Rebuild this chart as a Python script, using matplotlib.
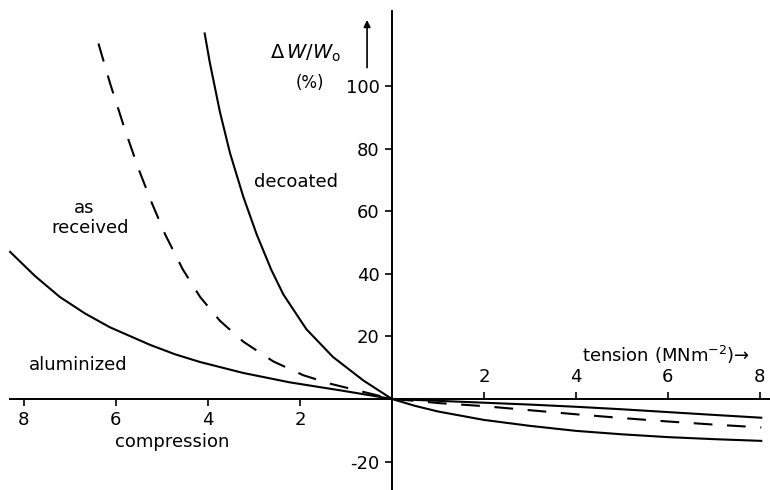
import numpy as np
import matplotlib.pyplot as plt

# compression side (negative stress)
dec_x_c = [-4.07, -3.96, -3.74, -3.52, -3.23, -2.94, -2.62, -2.36, -1.86, -1.28, -0.62, 0]
dec_y_c = [116.8, 107.6, 91.8, 78.6, 64.6, 52.6, 41.2, 33.4, 22.3, 13.4, 5.9, 0]

asr_x_c = [-6.38, -6.13, -5.80, -5.51, -5.23, -4.93, -4.55, -4.17, -3.74, -3.23,
           -2.58, -1.93, -1.35, -0.77, 0]
asr_y_c = [113.6, 101.0, 85.9, 73.6, 63.0, 52.6, 41.5, 32.6, 25.0, 18.3,
           12.0, 7.6, 4.9, 2.8, 0]

alu_x_c = [-8.3, -7.76, -7.22, -6.67, -6.13, -5.26, -4.72, -4.17, -3.23, -2.22, -1.06, 0]
alu_y_c = [47, 39.3, 32.6, 27.3, 22.9, 17.3, 14.3, 11.8, 8.3, 5.3, 2.6, 0]

# tension side
ten_x = [0.5, 1, 2, 3, 4, 5, 6, 7, 8.03]
dec_y_t = [-2.2, -4.0, -6.7, -8.6, -10.2, -11.3, -12.2, -12.85, -13.4]
asr_y_t = [-0.6, -1.3, -2.3, -3.6, -4.9, -6.1, -7.2, -8.2, -9.1]
alu_y_t = [-0.3, -0.6, -1.2, -1.8, -2.5, -3.3, -4.2, -5.1, -6.0]

xticks_c = [-8, -6, -4, -2]
xticks_t = [2, 4, 6, 8]
yticks = [-20, 20, 40, 60, 80, 100]

fs = 13
fig = plt.figure(figsize=(7.7, 4.9), dpi=100)
ax = fig.add_axes([0, 0, 1, 1])
ylo, yhi = -29.1, 127.5
ax.set_xlim(-8.52, 8.22)
ax.set_ylim(ylo, yhi)

lw = 1.5
ax.plot(dec_x_c + ten_x, dec_y_c + dec_y_t, color='black', lw=lw)
ax.plot(alu_x_c + ten_x, alu_y_c + alu_y_t, color='black', lw=lw)
ax.plot(asr_x_c + ten_x, asr_y_c + asr_y_t, color='black', lw=lw,
        dashes=(9, 7))

# axes through the origin
for s in ['top', 'right']:
    ax.spines[s].set_visible(False)
ax.spines['left'].set_position(('data', 0))
ax.spines['bottom'].set_position(('data', 0))
ax.spines['left'].set_bounds(ylo, 124)
ax.spines['bottom'].set_bounds(-8.3, 8.22)
ax.spines['left'].set_linewidth(1.4)
ax.spines['bottom'].set_linewidth(1.4)

ax.set_xticks(xticks_c)
ax.set_xticklabels([str(abs(v)) for v in xticks_c])
ax.tick_params(axis='x', direction='out', length=5, width=1.2, pad=4, labelsize=fs)
ax.set_yticks(yticks)
ax.set_yticklabels([str(v) for v in yticks])
ax.tick_params(axis='y', direction='out', length=5, width=1.2, pad=4, labelsize=fs)

# tension ticks sit above the axis
frac0 = (0 - ylo) / (yhi - ylo)
sec = ax.secondary_xaxis(frac0)
sec.set_xticks(xticks_t)
sec.set_xticklabels([str(v) for v in xticks_t])
sec.xaxis.set_ticks_position('top')
sec.tick_params(axis='x', direction='out', length=5, width=1.2, pad=4, labelsize=fs)
for s in sec.spines.values():
    s.set_visible(False)

ax.text(-1.87, 110.5, r'$\Delta\,W/W_{\rm o}$', fontsize=14, ha='center', va='center')
ax.text(-1.78, 101, '(%)', fontsize=12, ha='center', va='center')
ax.annotate('', xy=(-0.54, 122), xytext=(-0.54, 105),
            arrowprops=dict(arrowstyle='-|>', color='black', lw=1.2, mutation_scale=10))
ax.text(-2.09, 69.3, 'decoated', fontsize=fs, ha='center', va='center')
ax.text(-6.70, 61, 'as', fontsize=fs, ha='center', va='center')
ax.text(-6.57, 54.6, 'received', fontsize=fs, ha='center', va='center')
ax.text(-6.83, 10.9, 'aluminized', fontsize=fs, ha='center', va='center')
ax.text(-4.78, -13.7, 'compression', fontsize=fs, ha='center', va='center')
ax.text(4.13, 14, 'tension (MNm$^{-2}$)→', fontsize=fs, ha='left', va='center')

fig.savefig('out.png', dpi=100)
